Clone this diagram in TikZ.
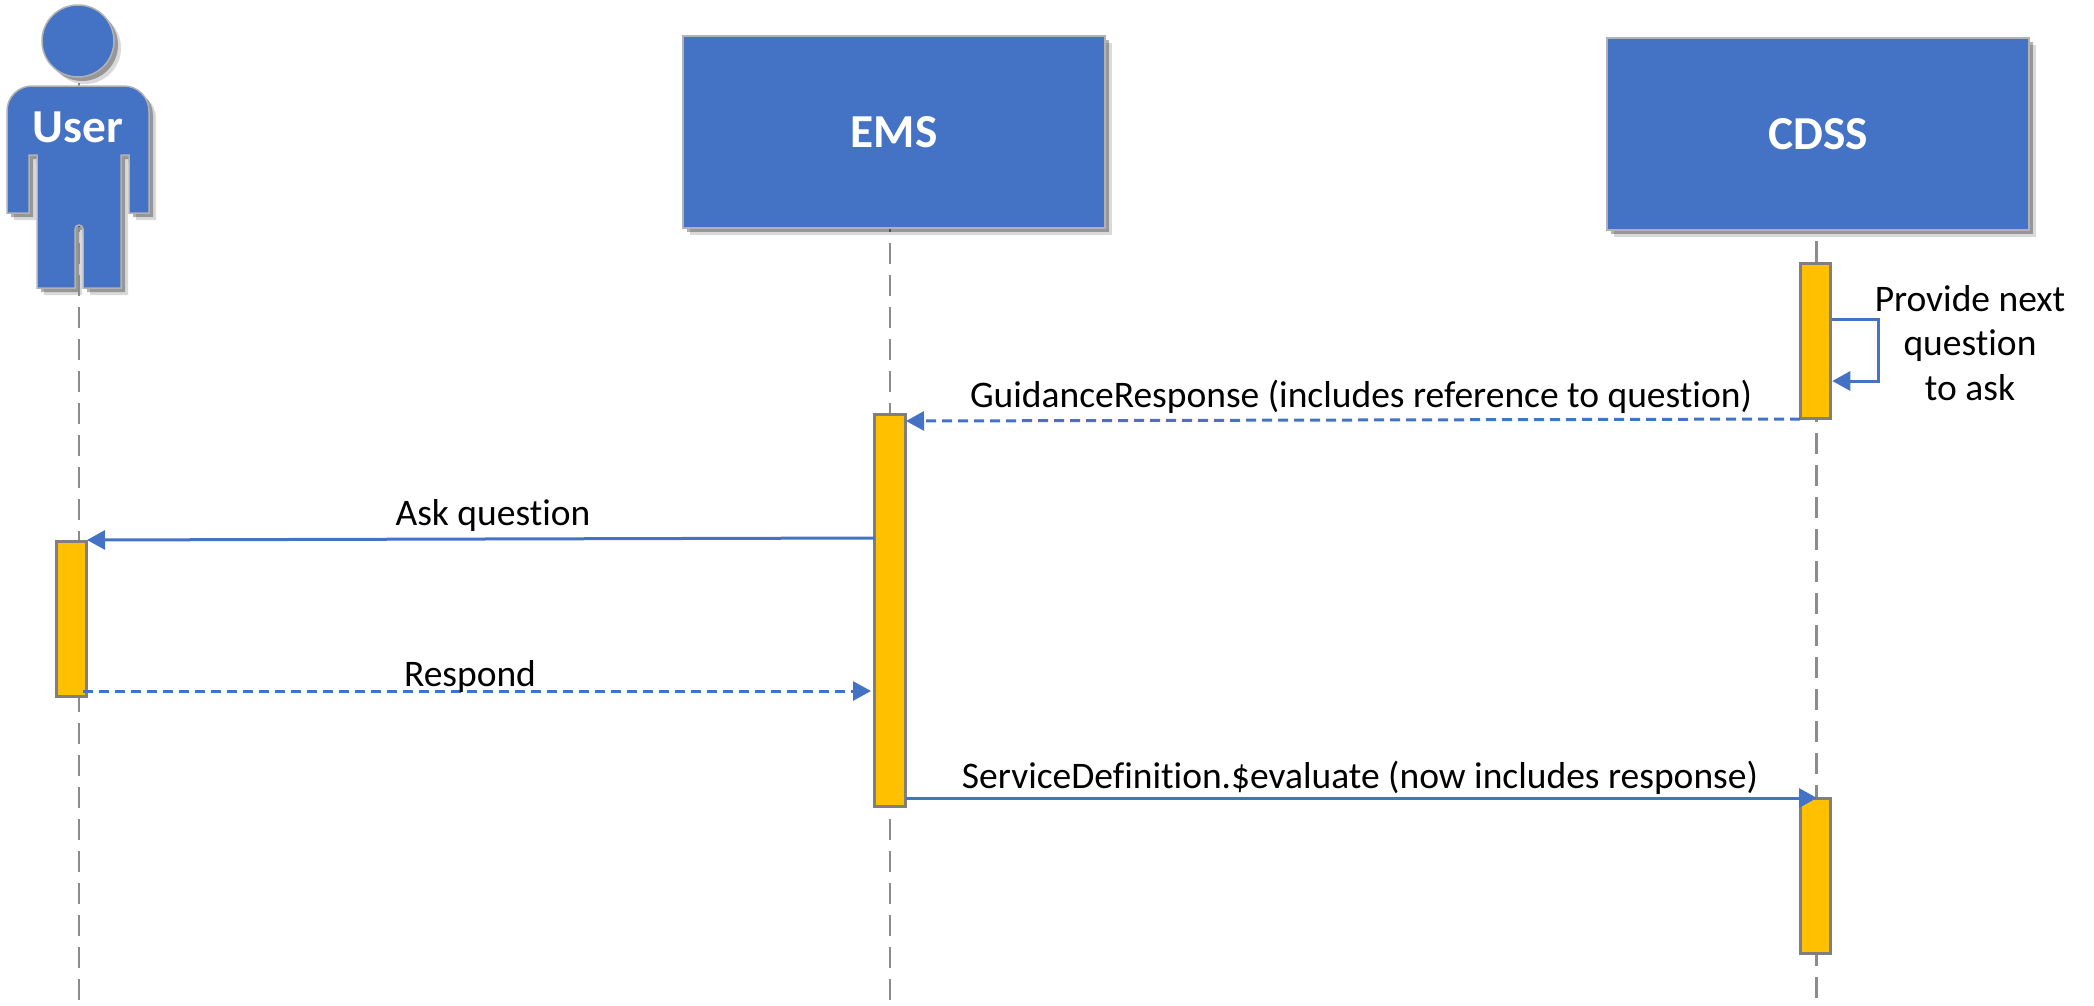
\documentclass[tikz,border=0pt]{standalone}
\usepackage{fontspec}
\setmainfont[Ligatures=NoCommon]{Carlito}
\usetikzlibrary{arrows.meta, positioning, calc, shadows}
\definecolor{boxblue}{HTML}{4472C4}
\definecolor{actorange}{HTML}{FFC000}
\definecolor{linegray}{HTML}{7F7F7F}
\definecolor{vidagray}{HTML}{8C8C8C}
\begin{document}
\begin{tikzpicture}[x=1pt, y=-1pt,
        sombra/.style={drop shadow={shadow xshift=7pt, shadow yshift=-7pt, fill=black, opacity=0.15}, drop shadow={shadow xshift=4pt, shadow yshift=-4pt, fill=black, opacity=0.3}},
        caja/.style={rectangle, draw=gray!60, line width=1.5pt, fill=boxblue, minimum width=422pt, minimum height=192pt, text=white, font=\fontsize{47.3}{52}\selectfont\bfseries, sombra},
        act/.style={rectangle, draw=linegray, line width=3pt, fill=actorange, minimum width=30.5pt, inner sep=0pt},
        vida/.style={draw=vidagray, line width=2.8pt, dash pattern=on 21.3pt off 10.7pt},
        msg/.style={draw=boxblue, line width=3pt, -{Triangle[length=18pt, width=19pt]}},
        msgdash/.style={msg, dash pattern=on 10pt off 6pt},
        etiq/.style={font=\fontsize{37.5}{44.5}\selectfont, align=center, inner sep=0pt}]
        \useasboundingbox (0,0) rectangle (2094,1005);
        % lifelines
        \coordinate (usertop) at (79,83);
        \coordinate (userbot) at (79,1000);
        \coordinate (emstop) at (890,211);
        \coordinate (emsbot) at (890,1000);
        \coordinate (cdsstop) at (1816.5,209);
        \coordinate (cdssbot) at (1816.5,1000);
        \draw[vida] (usertop) -- (userbot);
        \draw[vida] (emstop) -- (emsbot);
        \draw[vida] (cdsstop) -- (cdssbot);
        % actor
        \draw[draw=gray!60, line width=1.5pt, fill=boxblue, even odd rule, sombra]
            (78,41) circle (36)
            (32,86) -- (124,86) arc[start angle=90, end angle=0, x radius=25, y radius=-25] -- (149,213) -- (129,213) -- (129,155) -- (121,155)
            -- (121,288) -- (83,288) -- (83,229) arc[start angle=0, end angle=180, x radius=4, y radius=-4] -- (75,288) -- (37,288) -- (37,155) -- (29,155) -- (29,213) -- (7,213) -- (7,111)
            arc[start angle=180, end angle=90, x radius=25, y radius=-25] -- cycle;
        \coordinate (slittop) at (79,227);
        \coordinate (slitbot) at (79,297);
        \draw[vida, dash phase=16pt] (slittop) -- (slitbot);
        \node[text=white, font=\fontsize{47.3}{52}\selectfont\bfseries, inner sep=0pt] (user) at (78,127) {User};
        % boxes
        \node[caja] (ems) at (894,132) {EMS};
        \node[caja] (cdss) at (1818,134) {CDSS};
        % activations
        \node[act, minimum height=155pt] (actcdssa) at (1815.5,341) {};
        \node[act, minimum height=392pt] (actems) at (890,610.5) {};
        \node[act, minimum height=155pt] (actuser) at (71.5,619) {};
        \node[act, minimum height=155pt] (actcdssb) at (1815.5,876) {};
        % messages
        \coordinate (selfa) at (actcdssa.east |- 0,319);
        \coordinate (selfb) at (1878,319);
        \coordinate (selfc) at (1878,381);
        \coordinate (selfd) at (actcdssa.east |- 0,381);
        \draw[msg] (selfa) -- (selfb) -- (selfc) -- (selfd);
        \coordinate (guia) at (1800,419);
        \coordinate (guib) at (906,421);
        \draw[msgdash] (guia) -- (guib);
        \coordinate (aska) at (875,538);
        \coordinate (askb) at (87,540);
        \draw[msg] (aska) -- (askb);
        \coordinate (resa) at (83,691);
        \coordinate (resb) at (871,691);
        \draw[msgdash] (resa) -- (resb);
        \coordinate (seva) at (906,798);
        \coordinate (sevb) at (1817,798);
        \draw[msg] (seva) -- (sevb);
        % labels
        \node[etiq] (lprovide) at (1970,343) {Provide next\\question\\to ask};
        \node[etiq] (lguidance) at (1361,397) {GuidanceResponse (includes reference to question)};
        \node[etiq] (lask) at (493,515) {Ask question};
        \node[etiq] (lrespond) at (470,676) {Respond};
        \node[etiq] (lservice) at (1360,778) {ServiceDefinition.\$evaluate (now includes response)};
    \end{tikzpicture}
\end{document}
